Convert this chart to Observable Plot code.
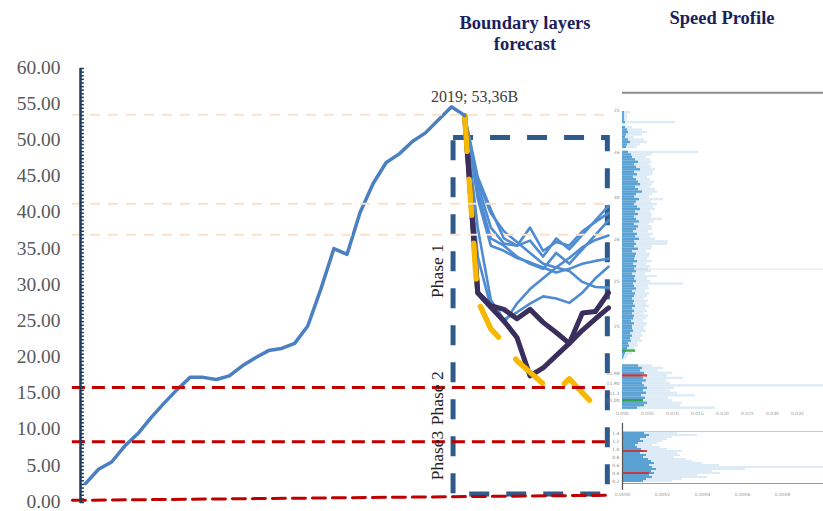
<!DOCTYPE html>
<html><head><meta charset="utf-8">
<script src="https://cdn.jsdelivr.net/npm/d3@7"></script>
<script src="https://cdn.jsdelivr.net/npm/@observablehq/plot@0.6"></script>
<style>
html,body{margin:0;padding:0;background:#fff;}
#wrap{position:relative;width:823px;height:511px;overflow:hidden;font-family:"Liberation Serif","Times New Roman",serif;}
#wrap svg{position:absolute;}
.title{position:absolute;font-weight:bold;font-size:18.5px;line-height:21px;color:#1b1f5c;text-align:center;white-space:nowrap;}
</style></head><body>
<div id="wrap">
  <div class="title" style="left:425px;top:13px;width:200px">Boundary layers<br>forecast</div>
  <div class="title" style="left:622px;top:8px;width:200px">Speed Profile</div>
</div>
<script>
// ---------- main series ----------
const historyYears = [1991,1992,1993,1994,1995,1996,1997,1998,1999,2000,2001,2002,2003,2004,2005,2006,2007,2008,2009,2010,2011,2012,2013,2014,2015,2016,2017,2018,2019,2020];
const historyValues = [2.6,4.6,5.6,7.8,9.5,11.7,13.7,15.6,17.3,17.3,17.0,17.5,18.9,20.0,21.0,21.3,22.0,24.4,29.5,35.1,34.3,40.1,44.1,47.0,48.2,49.9,51.1,52.9,54.7,53.5];

// ---------- forecast scenarios ----------
const forecastYears = [2020,2021,2022,2023,2024,2025,2026,2027,2028,2029,2030,2031];
const lightScenarios = [
  [53.5,44.5,40.0,37.5,36.0,34.5,33.0,32.5,32.0,30.5,29.8,29.7],
  [53.5,45.0,40.5,36.5,35.5,36.2,34.0,36.5,35.0,37.0,39.0,41.0],
  [53.5,44.0,38.0,35.8,35.5,38.0,34.8,36.0,35.5,37.5,38.8,40.0],
  [53.5,43.0,36.5,35.5,34.0,33.0,32.3,34.5,33.0,35.0,37.0,39.0],
  [53.5,42.0,35.5,34.8,33.8,33.2,32.5,31.8,32.3,33.0,33.4,33.7],
  [53.5,34.0,27.0,24.8,27.5,29.5,31.0,32.5,33.8,35.3,36.3,36.9],
  [53.5,38.0,28.0,25.3,26.3,27.5,28.5,28.2,27.6,29.0,31.0,32.6]
];
const darkScenarios = [
  [53.5,29.0,27.2,26.7,25.4,26.7,24.9,23.5,22.0,26.2,26.4,29.0],
  [53.5,29.0,27.0,25.1,22.8,17.5,18.6,20.3,22.0,23.8,25.4,26.9]
];
const yellowValues = [53.5,27.9,24.0,22.1,19.6,18.0,16.4,15.3,17.1,15.2,13.3];

// ---------- reference levels & annotations ----------
const paleLevels = [53.6, 41.3, 37.0];
const redLevels = [15.9, 8.4];
const redBaseValues = [0.3, 1.0];
const lineStartYear = 1990.0;
const lineEndYear = 2031.0;
const boxYears = [2019.15, 2030.95];
const boxValues = [1.1, 50.4];
const phaseNames = ["Phase 1", "Phase 2", "Phase3"];
const phaseValues = [32.0, 14.4, 6.5];
const annotationYear = 2019;
const annotationText = "2019; 53,36B";
const yTickValues = [0,5,10,15,20,25,30,35,40,45,50,55,60];
const yTickLabels = yTickValues.map(v => v.toFixed(2));
const axisYear = 1990.62;

// ---------- speed profile histograms ----------
const speedCoreUpper = [
  0,0,2,2,2,2,3,0,3,5,6,4,3,6,8,5,4,0,6,9,
  10,13,16,12,14,18,12,15,11,14,
  16,18,13,16,20,14,12,17,14,12,
  15,18,13,16,12,14,17,12,16,14,
  11,15,13,17,12,14,12,16,10,14,
  13,12,15,11,14,12,14,10,13,12,
  14,11,12,14,10,13,12,10,12,11,
  13,10,12,10,12,11,9,12,10,10,
  11,8,10,8,9,6,7,5,4,3,2,1,
  0,0,
  16,20,18,22,19,21,24,20,22,25,21,24,19,23,20,25,22,15
];
const speedTailUpper = [
  0,0,8,5,5,5,53,0,10,20,25,20,12,22,25,18,15,0,76,30,
  24,28,30,27,29,33,31,30,25,28,
  32,30,28,33,35,30,27,41,29,35,
  31,33,28,30,29,40,32,27,30,30,
  26,31,28,33,46,45,30,29,24,28,
  27,25,30,24,28,26,29,23,35,25,
  28,61,26,27,23,27,25,22,26,24,
  27,23,25,22,26,24,21,25,23,22,
  24,19,21,18,20,15,16,12,14,10,6,4,
  0,0,
  30,41,36,50,45,61,44,48,201,52,48,55,73,46,50,60,58,93
];
const upperHighlightRows = [98, 108, 118];
const upperHighlightLengths = [13, 25, 21];
const upperHighlightKinds = ["green", "red", "green"];
const upperRowLabels = ["25", "26", "30", "26", "25", "25", "11.98", "11.90", "11.1", "11.00"];
const upperRowLabelRows = [1, 18, 36, 53, 70, 88, 107, 111, 115, 118];
const upperTickLabels = ["0.000","0.005","0.010","0.015","0.020","0.025","0.030","0.035"];

const speedCoreLower = [22,27,24,18,21,16,13,15,19,22,18,24,21,26,29,32,27,30,34,29,32,27,30,24,21];
const speedTailLower = [55,75,50,45,40,35,30,38,45,60,55,58,52,64,70,80,97,201,123,90,98,75,85,60,50];
const lowerHighlightRows = [9, 20];
const lowerHighlightLengths = [25, 27];
const lowerRowLabels = ["1.4","1.2","1.0","0.8","0.6","0.4","0.2"];
const lowerRowLabelRows = [0, 4, 8, 12, 16, 20, 24];
const lowerTickLabels = ["0.0000","0.0002","0.0004","0.0006","0.0008"];

// ---------- build tables ----------
const history = historyYears.map((year, i) => ({year, value: historyValues[i]}));
const light = lightScenarios.flatMap((vals, s) => vals.map((value, i) => ({series: s, year: forecastYears[i], value})));
const dark = darkScenarios.flatMap((vals, s) => vals.map((value, i) => ({series: s, year: forecastYears[i], value})));
const yellow = yellowValues.map((value, i) => ({year: forecastYears[i], value}));
const minorTicks = d3.range(0, 60.01, 0.5);
const serif = "Liberation Serif";

const main = Plot.plot({
  width: 823, height: 511,
  marginLeft: 80, marginRight: 215, marginTop: 68, marginBottom: 9,
  x: {domain: [axisYear, 2031], axis: null},
  y: {domain: [0, 60], axis: null},
  style: {background: "transparent", fontFamily: serif, overflow: "visible"},
  marks: [
    Plot.rect([{x1: boxYears[0], x2: boxYears[1], y1: boxValues[0], y2: boxValues[1]}],
      {x1: "x1", x2: "x2", y1: "y1", y2: "y2", fill: "none", stroke: "#2f5b8c", strokeWidth: 5, strokeDasharray: "20,17"}),
    Plot.line(light, {x: "year", y: "value", z: "series", stroke: "#4f8bd0", strokeWidth: 2.6, strokeLinejoin: "round"}),
    Plot.line(dark, {x: "year", y: "value", z: "series", stroke: "#3a2f5c", strokeWidth: 5, strokeLinejoin: "round"}),
    Plot.line(yellow, {x: "year", y: "value", stroke: "#f6b800", strokeWidth: 5.5, strokeLinecap: "round", strokeLinejoin: "round", strokeDasharray: "36,28"}),
    Plot.line(history, {x: "year", y: "value", stroke: "#4a7fc1", strokeWidth: 3.5, strokeLinejoin: "round"}),
    Plot.ruleY(paleLevels, {x1: lineStartYear, x2: boxYears[1], stroke: "#fbe0ca", strokeWidth: 2, strokeDasharray: "10,8"}),
    Plot.ruleY(redLevels, {x1: lineStartYear, x2: lineEndYear, stroke: "#c00000", strokeWidth: 3, strokeDasharray: "13,7"}),
    Plot.line([{year: lineStartYear, value: redBaseValues[0]}, {year: lineEndYear, value: redBaseValues[1]}],
      {x: "year", y: "value", stroke: "#c00000", strokeWidth: 3, strokeDasharray: "13,7"}),
    Plot.ruleX([axisYear], {y1: -0.15, y2: 60, stroke: "#1f3b5c", strokeWidth: 2.5}),
    Plot.ruleY(minorTicks, {x1: axisYear, x2: axisYear + 0.3, stroke: "#1f3b5c", strokeWidth: 1.5}),
    Plot.text(yTickValues, {x: () => axisYear, y: d => d, text: (d, i) => yTickLabels[i], textAnchor: "end", dx: -20, dy: -1, fontSize: 19.5, fill: "#595959", fontFamily: serif}),
    Plot.text([{year: annotationYear, value: historyValues[historyYears.indexOf(annotationYear)], label: annotationText}],
      {x: "year", y: "value", text: "label", dx: 23, dy: -10, fontSize: 16, fill: "#404040", fontFamily: serif}),
    Plot.text(phaseNames.map((name, i) => ({name, value: phaseValues[i]})),
      {x: () => boxYears[0], y: "value", text: "name", rotate: -90, dx: -16, fontSize: 17.5, fill: "#222", fontFamily: serif})
  ]
});
main.style.left = "0px"; main.style.top = "0px";
document.getElementById("wrap").appendChild(main);

// ---------- speed profile panels ----------
const binBlue = "#2383c6";
const rowsA = speedCoreUpper.map((core, i) => ({row: i, core, tail: speedTailUpper[i]}));
const hlA = upperHighlightRows.map((row, i) => ({row, len: upperHighlightLengths[i], color: upperHighlightKinds[i] === "red" ? "#d62728" : "#2ca02c"}));
const labA = upperRowLabelRows.map((row, i) => ({row, label: upperRowLabels[i]}));
const panelA = Plot.plot({
  width: 223, height: 334,
  marginLeft: 22, marginRight: 0, marginTop: 6, marginBottom: 10,
  x: {domain: [0, 201]},
  y: {type: "band", domain: d3.range(-6, 122), padding: 0.05, axis: null},
  style: {background: "transparent", fontFamily: "DejaVu Sans", overflow: "visible"},
  marks: [
    Plot.ruleY([-6], {stroke: "#8c8c8c", strokeWidth: 2}),
    Plot.ruleY([65], {stroke: "#e4e4e4", strokeWidth: 1}),
    Plot.barX(rowsA, {x: "tail", y: "row", fill: binBlue, fillOpacity: 0.16}),
    Plot.barX(rowsA, {x: "core", y: "row", fill: binBlue, fillOpacity: 0.7}),
    Plot.barX(hlA, {x: "len", y: "row", fill: "color", fillOpacity: 0.85}),
    Plot.axisX({ticks: upperTickLabels.map((_, i) => i * 25), tickFormat: (d, i) => upperTickLabels[i], tickSize: 0, tickPadding: 2, fontSize: 4.5, fill: "#999", label: null}),
    Plot.text(labA, {x: () => 0, y: "row", text: "label", dx: -3, textAnchor: "end", fontSize: 4.5, fill: "#888"})
  ]
});
panelA.style.left = "600px"; panelA.style.top = "85px";
document.getElementById("wrap").appendChild(panelA);

const rowsB = speedCoreLower.map((core, i) => ({row: i, core, tail: speedTailLower[i]}));
const hlB = lowerHighlightRows.map((row, i) => ({row, len: lowerHighlightLengths[i]}));
const labB = lowerRowLabelRows.map((row, i) => ({row, label: lowerRowLabels[i]}));
const panelB = Plot.plot({
  width: 223, height: 78,
  marginLeft: 22, marginRight: 0, marginTop: 2, marginBottom: 9,
  x: {domain: [0, 201]},
  y: {type: "band", domain: d3.range(-1, 26), padding: 0.05, axis: null},
  style: {background: "transparent", fontFamily: "DejaVu Sans", overflow: "visible"},
  marks: [
    Plot.ruleY([-1], {stroke: "#c8c8c8", strokeWidth: 1}),
    Plot.ruleY([25], {stroke: "#9a9a9a", strokeWidth: 1}),
    Plot.barX(rowsB, {x: "tail", y: "row", fill: binBlue, fillOpacity: 0.16}),
    Plot.barX(rowsB, {x: "core", y: "row", fill: binBlue, fillOpacity: 0.7}),
    Plot.barX(hlB, {x: "len", y: "row", fill: "#d62728", fillOpacity: 0.85}),
    Plot.ruleX([0], {stroke: "#555", strokeWidth: 1.2}),
    Plot.axisX({ticks: lowerTickLabels.map((_, i) => i * 40), tickFormat: (d, i) => lowerTickLabels[i], tickSize: 0, tickPadding: 2, fontSize: 4.5, fill: "#999", label: null}),
    Plot.text(labB, {x: () => 0, y: "row", text: "label", dx: -3, textAnchor: "end", fontSize: 4.5, fill: "#888"})
  ]
});
panelB.style.left = "600px"; panelB.style.top = "421px";
document.getElementById("wrap").appendChild(panelB);
</script>
</body></html>
